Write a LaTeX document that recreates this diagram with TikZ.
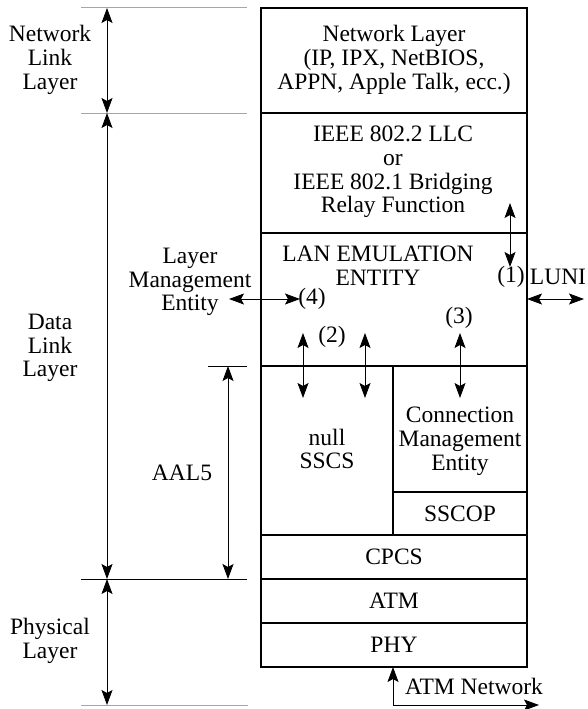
\documentclass[tikz,border=0pt]{standalone}
\usepackage{fontspec}
\setmainfont{Liberation Serif}
\usetikzlibrary{arrows.meta}
\begin{document}
\begin{tikzpicture}[x=1pt,y=-1pt,
  every node/.style={font=\fontsize{23.5}{23.8}\selectfont, align=center, inner sep=0pt},
  boxline/.style={line width=1.2pt},
  guide/.style={line width=1pt, draw=gray!70},
  guideblk/.style={line width=1pt, draw=black},
  dim/.style={line width=0.8pt, {Stealth[length=15pt,width=11pt,inset=3pt]}-{Stealth[length=15pt,width=11pt,inset=3pt]}}]
\useasboundingbox (0,0) rectangle (588,709);
% boxes
\draw[boxline] (261,8) rectangle (527,667);
\draw[boxline] (261,113) -- (527,113);
\draw[boxline] (261,233) -- (527,233);
\draw[boxline] (261,366) -- (527,366);
\draw[boxline] (393,366) -- (393,535);
\draw[boxline] (393,492) -- (527,492);
\draw[boxline] (261,535) -- (527,535);
\draw[boxline] (261,579) -- (527,579);
\draw[boxline] (261,623) -- (527,623);
% box texts
\node (netl) at (394,60) {Network Layer\\(IP, IPX, NetBIOS,\\APPN, Apple Talk, ecc.)};
\node (llc) at (393,172) {IEEE 802.2 LLC\\or\\IEEE 802.1 Bridging\\Relay Function};
\node (lane) at (378,266) {LAN EMULATION\\ENTITY};
\node (p1) at (511,277) {(1)};
\node (p4) at (312,299) {(4)};
\node (p2) at (332,337) {(2)};
\node (p3) at (459,318) {(3)};
\node (luni) at (558,277) {LUNI};
\node (null) at (327,449) {null\\SSCS};
\node (cme) at (460,441) {Connection\\Management\\Entity};
\node (sscop) at (460,514) {SSCOP};
\node (cpcs) at (394,557) {CPCS};
\node (atm) at (394,601) {ATM};
\node (phy) at (394,645) {PHY};
\node (atmnet) at (474,686) {ATM Network};
% left labels
\node (nll) at (50,60) {Network\\Link\\Layer};
\node (dll) at (50,348) {Data\\Link\\Layer};
\node (phl) at (50,641) {Physical\\Layer};
\node (aal) at (182,473) {AAL5};
\node (lme) at (190,282) {Layer\\Management\\Entity};
% guide lines
\draw[guide] (81,8) -- (247,8);
\draw[guide] (81,113) -- (247,113);
\draw[guideblk] (81,579) -- (247,579);
\draw[guide] (81,705) -- (248,705);
\draw[guideblk] (208,366) -- (247,366);
% coordinates
\coordinate (nlT) at (107,8);
\coordinate (nlB) at (107,113);
\coordinate (dlB) at (107,579);
\coordinate (phB) at (107,705);
\coordinate (aT) at (228,366);
\coordinate (aB) at (228,579);
\coordinate (a1T) at (510,203);
\coordinate (a1B) at (510,267);
\coordinate (lmeL) at (229,299);
\coordinate (lmeR) at (300,299);
\coordinate (luL) at (527,299);
\coordinate (luR) at (584,299);
\coordinate (a2aT) at (303,333);
\coordinate (a2aB) at (303,398);
\coordinate (a2bT) at (365,333);
\coordinate (a2bB) at (365,398);
\coordinate (a3T) at (460,333);
\coordinate (a3B) at (460,398);
\coordinate (anT) at (393,667);
\coordinate (anR) at (539,705);
% dimension arrows
\draw[dim] (nlT) -- (nlB);
\draw[dim] (nlB) -- (dlB);
\draw[dim] (dlB) -- (phB);
\draw[dim] (aT) -- (aB);
\draw[dim] (a1T) -- (a1B);
\draw[dim] (lmeL) -- (lmeR);
\draw[dim] (luL) -- (luR);
\draw[dim] (a2aT) -- (a2aB);
\draw[dim] (a2bT) -- (a2bB);
\draw[dim] (a3T) -- (a3B);
\draw[dim] (anT) |- (anR);
\end{tikzpicture}
\end{document}
